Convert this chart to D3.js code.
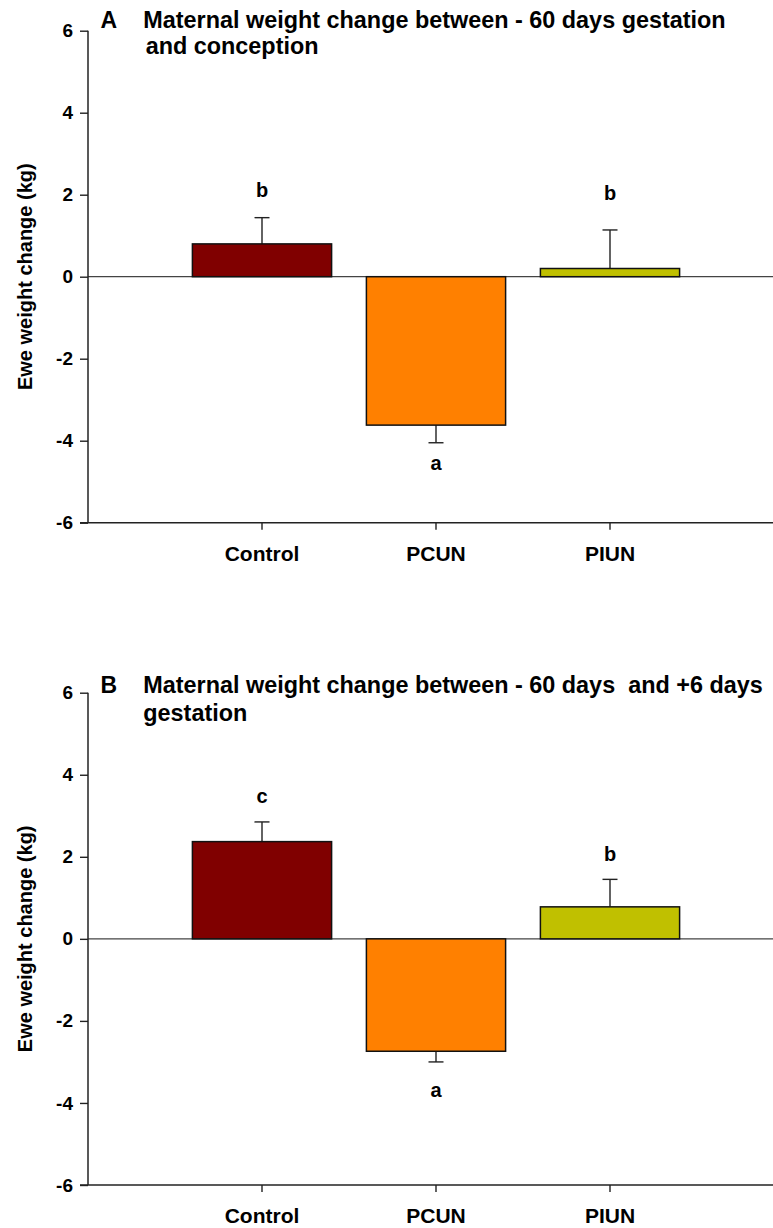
<!DOCTYPE html>
<html>
<head>
<meta charset="utf-8">
<script src="https://cdn.jsdelivr.net/npm/d3@7"></script>
<style>
  html, body { margin: 0; padding: 0; background: #fff; }
  svg { display: block; }
  text { font-family: "Liberation Sans", Arial, sans-serif; font-weight: bold; fill: #000; white-space: pre; }
</style>
</head>
<body>
<script>
// Treatment groups
const groups = ["Control", "PCUN", "PIUN"];

// Panel A: weight change between -60 days gestation and conception (kg)
const meanA = [0.80, -3.62, 0.20];
const seA = [0.64, 0.43, 0.94];
const lettersA = ["b", "a", "b"];
const letterValA = [2.11, -4.55, 2.05];

// Panel B: weight change between -60 days and +6 days gestation (kg)
const meanB = [2.37, -2.74, 0.78];
const seB = [0.48, 0.26, 0.67];
const lettersB = ["c", "a", "b"];
const letterValB = [3.48, -3.69, 2.08];

// Axis ticks
const yTicks = [-6, -4, -2, 0, 2, 4, 6];
const yDomain = [-6, 6];

const barColors = ["#800000", "#ff8000", "#c0c000"];

const W = 773, H = 1228;
const svg = d3.select("body").append("svg").attr("width", W).attr("height", H);

const axisX = 88;

function panel(opts) {
  const g = svg.append("g");
  const y = d3.scaleLinear().domain(yDomain).range([opts.bottom, opts.top]);
  const x = d3.scaleBand().domain(groups)
    .range([axisX + 87, axisX + 87 + 174 * 3])
    .paddingInner(0.2).paddingOuter(0.1);

  // zero reference line
  g.append("line")
    .attr("x1", axisX).attr("x2", W)
    .attr("y1", y(0)).attr("y2", y(0))
    .attr("stroke", "#444").attr("stroke-width", 1.3);

  const rows = groups.map((k, i) => ({
    k, m: opts.mean[i], se: opts.se[i], letter: opts.letters[i], lv: opts.letterVal[i], c: barColors[i]
  }));

  // error bars (drawn away from zero)
  rows.forEach(d => {
    const end = d.m >= 0 ? d.m + d.se : d.m - d.se;
    const cx = x(d.k) + x.bandwidth() / 2;
    g.append("line").attr("x1", cx).attr("x2", cx)
      .attr("y1", y(d.m)).attr("y2", y(end))
      .attr("stroke", "#222").attr("stroke-width", 1.4);
    g.append("line").attr("x1", cx - 7.5).attr("x2", cx + 7.5)
      .attr("y1", y(end)).attr("y2", y(end))
      .attr("stroke", "#222").attr("stroke-width", 1.4);
  });

  // bars
  g.selectAll("rect.bar").data(rows).enter().append("rect")
    .attr("class", "bar")
    .attr("x", d => x(d.k))
    .attr("width", x.bandwidth())
    .attr("y", d => y(Math.max(0, d.m)))
    .attr("height", d => Math.abs(y(d.m) - y(0)))
    .attr("fill", d => d.c)
    .attr("stroke", "#111").attr("stroke-width", 1.5);

  // significance letters
  g.selectAll("text.sig").data(rows).enter().append("text")
    .attr("class", "sig")
    .attr("x", d => x(d.k) + x.bandwidth() / 2)
    .attr("y", d => y(d.lv))
    .attr("dy", "0.36em")
    .attr("text-anchor", "middle")
    .style("font-size", "20px")
    .text(d => d.letter);

  // y axis
  const ya = g.append("g").attr("transform", `translate(${axisX},0)`)
    .call(d3.axisLeft(y).tickValues(yTicks).tickSize(8).tickPadding(7).tickFormat(d => String(d)));
  ya.select(".domain").remove();
  ya.selectAll(".tick line").attr("stroke", "#222").attr("stroke-width", 1.4);
  ya.selectAll(".tick text").style("font-size", "19px").attr("font-family", null).attr("fill", "#000");

  g.append("line").attr("x1", axisX).attr("x2", axisX)
    .attr("y1", y(6)).attr("y2", y(-6))
    .attr("stroke", "#222").attr("stroke-width", 1.5);

  // x axis at the bottom of the frame
  const xa = g.append("g").attr("transform", `translate(0,${y(-6)})`)
    .call(d3.axisBottom(x).tickSize(7).tickPadding(16));
  xa.select(".domain").remove();
  xa.selectAll(".tick line").attr("stroke", "#222").attr("stroke-width", 1.4);
  xa.selectAll(".tick text").style("font-size", "21px").attr("font-family", null).attr("fill", "#000");

  g.append("line").attr("x1", axisX - 8).attr("x2", W)
    .attr("y1", y(-6)).attr("y2", y(-6))
    .attr("stroke", "#222").attr("stroke-width", 1.6);

  // y axis title
  g.append("text")
    .attr("transform", `translate(32,${y(0)}) rotate(-90)`)
    .attr("text-anchor", "middle")
    .style("font-size", "20px")
    .text("Ewe weight change (kg)");

  // panel title
  g.append("text").attr("x", 100.5).attr("y", opts.titleY)
    .style("font-size", "23px").text(opts.tag);
  g.append("text").attr("x", 143.3).attr("y", opts.titleY)
    .style("font-size", "23.4px").text(opts.title1);
  g.append("text").attr("x", opts.title2X).attr("y", opts.titleY + opts.lineGap)
    .style("font-size", "23.4px").text(opts.title2);
}

panel({
  top: 30.7, bottom: 522.7,
  mean: meanA, se: seA, letters: lettersA, letterVal: letterValA,
  tag: "A", title1: "Maternal weight change between - 60 days gestation",
  title2: "and conception", title2X: 145.7, titleY: 27.7, lineGap: 26.7
});

panel({
  top: 692.7, bottom: 1185,
  mean: meanB, se: seB, letters: lettersB, letterVal: letterValB,
  tag: "B", title1: "Maternal weight change between - 60 days  and +6 days",
  title2: "gestation", title2X: 143.3, titleY: 693.3, lineGap: 27.7
});
</script>
</body>
</html>
